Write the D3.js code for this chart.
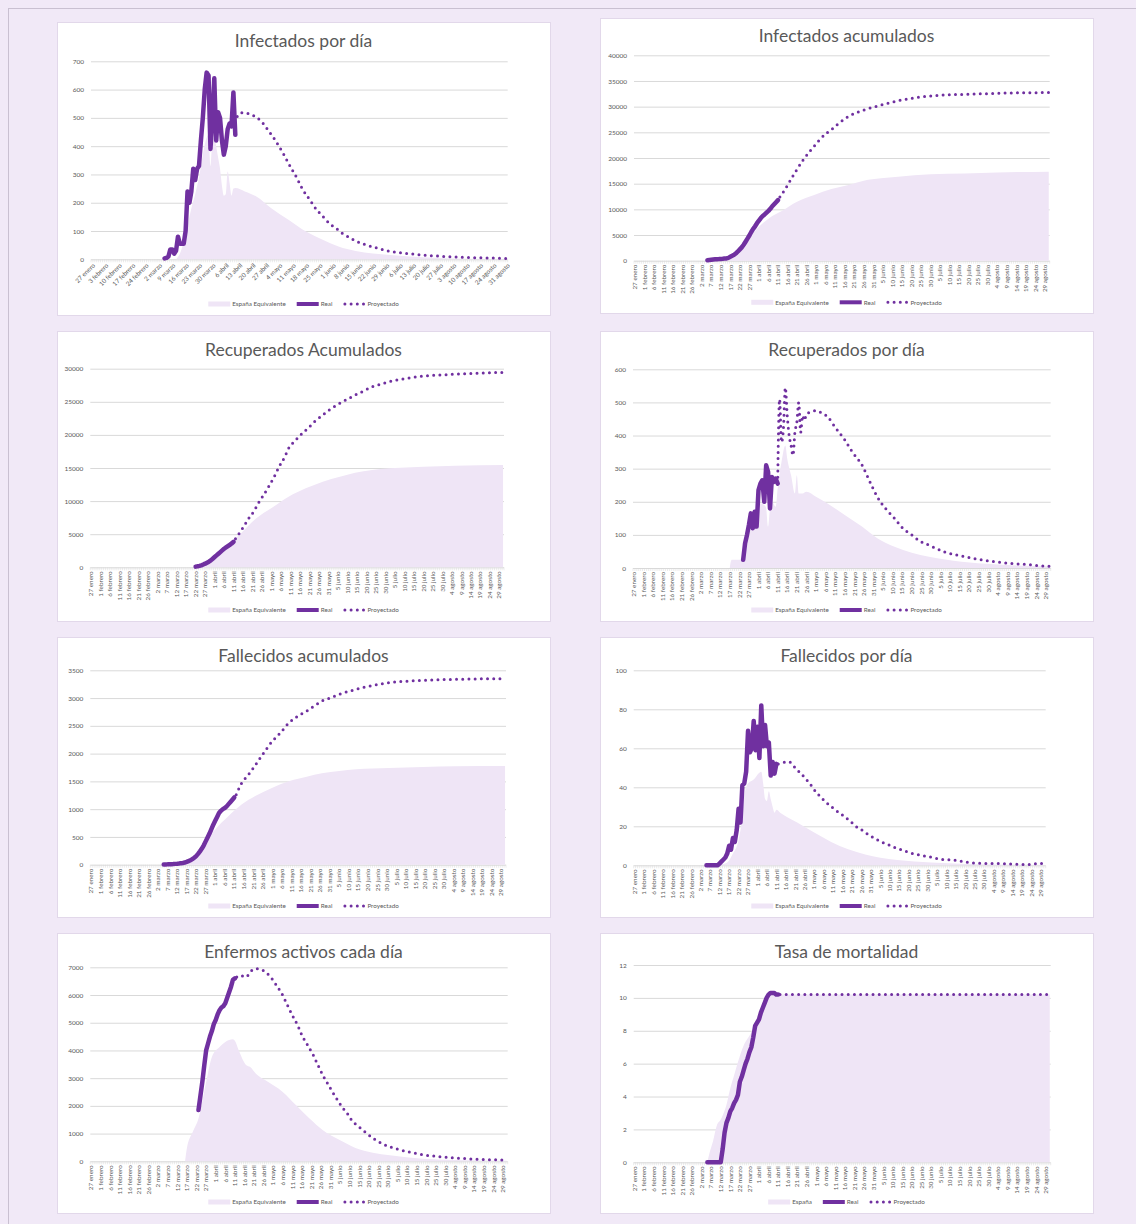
<!DOCTYPE html>
<html>
<head>
<meta charset="utf-8">
<script src="https://cdn.jsdelivr.net/npm/d3@7"></script>
<style>
body { margin: 0; background: #f1e9f7; }
svg { display: block; }
text { font-family: Lato, "Open Sans", sans-serif; fill: #595959; }
.grid line { stroke: #d9d9d9; stroke-width: 1; }
.grid text { font-size: 6.5px; }
.xlab { font-size: 6.3px; }
.titulo { font-size: 17.5px; }
.leyenda text { font-size: 6.3px; }
</style>
</head>
<body>
<svg id="chart" width="1136" height="1224"></svg>
<script>
// dias desde el 27 de enero hasta el 31 de agosto (categorias del eje)
const N_DIAS = 218

const etiquetasSemana = ["27 enero","3 febrero","10 febrero","17 febrero","24 febrero","2 marzo","9 marzo",
	"16 marzo","23 marzo","30 marzo","6 abril","13 abril","20 abril","27 abril","4 mayo","11 mayo","18 mayo",
	"25 mayo","1 junio","8 junio","15 junio","22 junio","29 junio","6 julio","13 julio","20 julio","27 julio",
	"3 agosto","10 agosto","17 agosto","24 agosto","31 agosto"]

const etiquetasCinco = ["27 enero","1 febrero","6 febrero","11 febrero","16 febrero","21 febrero","26 febrero",
	"2 marzo","7 marzo","12 marzo","17 marzo","22 marzo","27 marzo","1 abril","6 abril","11 abril","16 abril",
	"21 abril","26 abril","1 mayo","6 mayo","11 mayo","16 mayo","21 mayo","26 mayo","31 mayo","5 junio",
	"10 junio","15 junio","20 junio","25 junio","30 junio","5 julio","10 julio","15 julio","20 julio","25 julio",
	"30 julio","4 agosto","9 agosto","14 agosto","19 agosto","24 agosto","29 agosto"]

// --- Infectados por dia ---
const infDiaRealInicio = 38
const infDiaReal = [3,5,10,35,35,20,30,80,55,55,55,100,240,200,240,320,280,320,330,420,500,600,660,650,390,
	500,640,420,520,500,420,370,400,460,480,470,590,440]
const infDiaProy = [[76,505],[78,518],[80,518],[83,512],[86,503],[89,485],[92,458],[96,420],[100,375],[104,325],
	[107,290],[110,250],[114,210],[117,180],[121,150],[124,128],[128,108],[131,92],[135,76],[138,65],[142,54],
	[149,40],[156,28],[163,22],[173,15],[184,10],[194,7],[205,5],[217,3]]
const infDiaArea = [[44,0],[46,20],[48,60],[50,120],[52,180],[54,230],[56,290],[58,370],[60,430],[61,440],
	[62,330],[63,420],[64,430],[65,400],[66,360],[67,320],[68,260],[69,225],[70,230],[71,310],[72,270],[73,225],
	[74,250],[75,252],[80,240],[86,222],[94,180],[103,139],[112,98],[121,68],[129,45],[138,29],[156,15],
	[173,7],[190,3],[217,1]]

// --- Infectados acumulados ---
const infAcRealInicio = 38
const infAcReal = [100,150,200,250,280,300,320,350,380,420,450,550,750,950,1150,1450,1800,2200,2600,3100,3700,
	4300,4900,5600,6200,6700,7300,7800,8300,8700,9000,9350,9700,10100,10600,11000,11400,11800]
const infAcProy = [[76,12400],[78,13500],[80,14700],[83,16600],[85,17800],[88,19500],[91,21000],[94,22300],
	[96,23200],[100,24700],[103,25500],[107,26800],[112,28100],[116,28800],[120,29350],[125,29900],[129,30300],
	[134,30800],[138,31150],[143,31500],[147,31750],[155,32080],[164,32300],[173,32400],[182,32500],[190,32600],
	[200,32680],[210,32720],[217,32750]]
const infAcArea = [[46,0],[50,300],[55,1500],[58,3000],[61,4800],[64,6200],[68,7600],[72,8700],[77,9700],
	[85,11500],[94,12800],[103,13960],[112,14740],[120,15580],[129,16040],[138,16360],[155,16820],[173,17000],
	[190,17200],[217,17340]]

// --- Recuperados acumulados ---
const recAcRealInicio = 55
const recAcReal = [100,150,220,300,420,550,700,850,1050,1300,1550,1800,2050,2300,2550,2800,3000,3200,3400,3600,3850]
const recAcProy = [[76,4300],[78,5130],[80,6000],[83,7400],[86,8600],[88,9660],[91,11000],[94,12430],[97,14000],
	[99,15200],[102,16700],[104,17970],[107,19000],[110,19900],[115,21240],[118,22100],[122,23000],[126,23900],
	[131,24770],[135,25400],[139,26020],[144,26700],[148,27280],[153,27700],[157,28040],[166,28540],[175,28890],
	[184,29050],[192,29190],[205,29330],[217,29450]]
const recAcArea = [[52,0],[55,50],[60,500],[65,1500],[70,2800],[75,4100],[78,4880],[87,7400],[96,9160],
	[104,10670],[113,11930],[122,12940],[131,13690],[139,14300],[148,14700],[157,14950],[175,15200],
	[192,15350],[217,15450]]

// --- Recuperados por dia ---
const recDiaRealInicio = 57
const recDiaReal = [25,75,100,130,165,120,170,125,235,255,265,200,310,290,180,275,260,270,255]
const recDiaProy = [[75,255],[76,510],[77,380],[78,420],[79,545],[80,460],[81,400],[82,370],[83,340],[84,410],
	[85,440],[86,500],[87,410],[88,460],[89,445],[90,465],[92,470],[95,475],[98,468],[101,457],[105,425],
	[110,387],[114,350],[119,311],[123,262],[127,215],[132,175],[136,150],[140,122],[145,100],[149,82],
	[154,69],[162,49],[171,36],[180,26],[188,19],[197,14],[206,10],[214,6],[217,5]]
const recDiaArea = [[50,0],[51,25],[56,25],[57,60],[60,120],[63,160],[66,195],[68,190],[69,180],[70,125],
	[71,180],[72,200],[74,185],[75,240],[77,320],[79,370],[80,330],[82,280],[84,225],[85,280],[86,225],
	[88,225],[90,230],[95,215],[101,195],[110,160],[119,125],[127,90],[136,64],[145,46],[154,34],[171,19],
	[188,11],[217,5]]

// --- Fallecidos acumulados ---
const falAcRealInicio = 38
const falAcReal = [5,5,6,8,10,12,15,18,22,28,32,38,50,65,80,100,125,155,195,240,290,350,420,490,560,640,720,
	790,860,930,970,1000,1020,1050,1090,1130,1170,1210]
const falAcProy = [[76,1260],[79,1477],[82,1600],[85,1740],[88,1890],[91,2040],[95,2227],[98,2330],[100,2407],
	[103,2530],[106,2620],[109,2690],[113,2767],[117,2860],[121,2948],[126,3010],[130,3068],[135,3120],
	[139,3158],[143,3195],[148,3230],[156,3278],[165,3303],[174,3320],[183,3330],[191,3338],[200,3343],
	[214,3350],[217,3350]]
const falAcArea = [[46,0],[50,40],[55,150],[58,300],[60,426],[65,636],[72,877],[79,1087],[86,1237],[95,1387],
	[104,1507],[113,1585],[121,1645],[130,1687],[139,1717],[156,1741],[174,1759],[191,1771],[217,1777]]

// --- Fallecidos por dia ---
const falDiaRealInicio = 38
const falDiaReal = [0,0,0,0,0,0,0,1,2,3,4,6,10,8,14,12,18,29,22,41,42,48,69,58,60,74,59,71,55,82,61,72,61,
	63,46,53,47,52]
const falDiaProy = [[76,52],[78,52.5],[80,53],[82,53],[84,51],[87,48],[90,45],[93,41.5],[96,37.5],[98,35.5],
	[101,32.5],[103,31],[106,28.5],[109,26.5],[114,22.7],[117,20],[121,17.6],[124,15.5],[128,13.3],[131,11.8],
	[135,10.3],[138,9],[142,7.7],[145,6.6],[149,5.6],[152,5],[156,4.3],[163,3],[170,2.6],[177,1.4],[184,1],
	[192,0.9],[202,0.5],[208,0.4],[214,1],[217,0.5]]
const falDiaArea = [[40,0],[46,0.5],[49,1.4],[52,6],[55,13],[57,25],[58,35.5],[60,42],[63,44],[66,47.5],
	[67,48],[68,42],[69,34],[70,33],[71,38],[72,34],[73,30],[74,27],[75,28.5],[77,27],[86,22],[95,16.8],
	[104,12],[113,8.2],[122,5.6],[130,3.9],[139,2.7],[157,1.4],[175,0.7],[217,0.2]]

// --- Enfermos activos ---
const enfRealInicio = 56
const enfReal = [1850,2350,2860,3450,4000,4250,4500,4700,4950,5100,5300,5450,5550,5600,5700,5900,6100,6300,
	6550,6600]
const enfProy = [[76,6650],[78,6711],[80,6660],[81,6650],[83,6830],[86,6950],[88,6930],[91,6830],[93,6700],
	[95,6530],[97,6320],[100,5990],[102,5700],[105,5270],[108,4880],[110,4550],[113,4190],[116,3825],
	[118,3530],[121,3100],[124,2740],[126,2500],[129,2170],[131,1960],[134,1700],[136,1480],[139,1290],
	[142,1120],[147,842],[152,637],[159,457],[166,337],[173,240],[182,168],[190,120],[199,84],[208,60],[217,45]]
const enfArea = [[49,0],[50,500],[53,1058],[56,1540],[60,2862],[63,3765],[67,4125],[70,4305],[74,4400],
	[75,4350],[77,4005],[81,3464],[83,3404],[86,3163],[91,2923],[100,2502],[107,2020],[114,1540],[121,1120],
	[130,758],[138,481],[147,313],[156,216],[173,96],[190,48],[217,24]]

// --- Tasa de mortalidad ---
const tasaRealInicio = 38
const tasaReal = [0,0,0,0,0,0,0,0,0.8,1.8,2.4,2.7,3.1,3.3,3.6,3.8,4.1,4.9,5.2,5.6,6.0,6.3,6.7,7.0,7.6,8.3,
	8.5,8.7,9.1,9.4,9.7,10.0,10.2,10.3,10.3,10.3,10.2,10.2]
const tasaProy = [[76,10.2],[217,10.2]]
const tasaArea = [[38,0],[39,0.5],[41,1.3],[43,2.25],[45,2.6],[46,2.85],[48,3.5],[50,4.5],[52,5.3],[54,6.1],
	[57,7.1],[61,7.9],[63,8.4],[66,9.0],[68,9.65],[70,10.15],[72,10.2],[217,10.2]]

const MORADO = "#7030a0"
const LILA = "#efe5f6"

var svg = d3.select("#chart")

// marco de la pagina
svg.append("rect")
   .attr("x", 8.5).attr("y", 8.5)
   .attr("width", 1140).attr("height", 1230)
   .attr("fill", "none")
   .attr("stroke", "#c9c0d1")

function diario(inicio, valores) {
	return valores.map(function(v, k) { return [inicio + k, v] })
}

var paneles = [
	{ titulo: "Infectados por día", card: [57, 22, 493, 293], x0: 91, x1: 507.7, y0: 61.3, y1: 259.3,
	  ty: 41, ly: 304, yMax: 700, yStep: 100, semanal: true,
	  real: diario(infDiaRealInicio, infDiaReal), proy: infDiaProy, area: infDiaArea, nombreArea: "España Equivalente" },
	{ titulo: "Infectados acumulados", card: [600, 18, 493, 295], x0: 634, x1: 1049.7, y0: 55.3, y1: 260.7,
	  ty: 35.7, ly: 302.3, yMax: 40000, yStep: 5000,
	  real: diario(infAcRealInicio, infAcReal), proy: infAcProy, area: infAcArea, nombreArea: "España Equivalente" },
	{ titulo: "Recuperados Acumulados", card: [57, 331, 493, 290], x0: 90.3, x1: 504, y0: 368.7, y1: 567.3,
	  ty: 350, ly: 610, yMax: 30000, yStep: 5000,
	  real: diario(recAcRealInicio, recAcReal), proy: recAcProy, area: recAcArea, nombreArea: "España Equivalente" },
	{ titulo: "Recuperados por día", card: [600, 331, 493, 290], x0: 633, x1: 1050.7, y0: 369.3, y1: 568,
	  ty: 350, ly: 610, yMax: 600, yStep: 100,
	  real: diario(recDiaRealInicio, recDiaReal), proy: recDiaProy, area: recDiaArea, nombreArea: "España Equivalente" },
	{ titulo: "Fallecidos acumulados", card: [57, 637, 493, 280], x0: 90.3, x1: 506, y0: 670.3, y1: 864.7,
	  ty: 656, ly: 906, yMax: 3500, yStep: 500,
	  real: diario(falAcRealInicio, falAcReal), proy: falAcProy, area: falAcArea, nombreArea: "España Equivalente" },
	{ titulo: "Fallecidos por día", card: [600, 637, 493, 280], x0: 633.7, x1: 1045.7, y0: 670.3, y1: 865.3,
	  ty: 656, ly: 906, yMax: 100, yStep: 20,
	  real: diario(falDiaRealInicio, falDiaReal), proy: falDiaProy, area: falDiaArea, nombreArea: "España Equivalente" },
	{ titulo: "Enfermos activos cada día", card: [57, 933, 493, 280], x0: 90.3, x1: 507.7, y0: 967.3, y1: 1161.3,
	  ty: 952, ly: 1202, yMax: 7000, yStep: 1000,
	  real: diario(enfRealInicio, enfReal), proy: enfProy, area: enfArea, nombreArea: "España Equivalente" },
	{ titulo: "Tasa de mortalidad", card: [600, 933, 493, 280], x0: 633.7, x1: 1050.7, y0: 965, y1: 1162.3,
	  ty: 952, ly: 1202, yMax: 12, yStep: 2,
	  real: diario(tasaRealInicio, tasaReal), proy: tasaProy, area: tasaArea, nombreArea: "España" }
]

function renderPanel(p) {
	var g = svg.append("g")

	g.append("rect")
	 .attr("x", p.card[0] + 0.5).attr("y", p.card[1] + 0.5)
	 .attr("width", p.card[2]).attr("height", p.card[3])
	 .attr("fill", "#ffffff")
	 .attr("stroke", "#e2d8ea")

	var x = d3.scaleLinear()
	          .domain([-0.5, N_DIAS - 0.5])
	          .range([p.x0, p.x1])
	var y = d3.scaleLinear()
	          .domain([0, p.yMax])
	          .range([p.y1, p.y0])

	// rejilla horizontal y etiquetas del eje y
	var ejeY = g.append("g")
	 .attr("class", "grid")
	 .attr("transform", "translate(" + p.x0 + ",0)")
	 .call(d3.axisLeft(y)
	         .tickValues(d3.range(0, p.yMax + p.yStep / 2, p.yStep))
	         .tickFormat(d3.format("d"))
	         .tickSize(-(p.x1 - p.x0))
	         .tickPadding(7))
	ejeY.select(".domain").remove()

	// marcas de categoria en el eje x
	g.append("g")
	 .selectAll("line")
	 .data(d3.range(N_DIAS + 1))
	 .enter()
	 .append("line")
	 .attr("x1", function(d) { return x(d - 0.5) })
	 .attr("x2", function(d) { return x(d - 0.5) })
	 .attr("y1", p.y1)
	 .attr("y2", p.y1 + 3)
	 .attr("stroke", "#d9d9d9")
	 .attr("stroke-width", 0.5)

	var area = d3.area()
	             .x(function(d) { return x(d[0]) })
	             .y0(y(0))
	             .y1(function(d) { return y(d[1]) })
	             .curve(d3.curveMonotoneX)
	g.append("path")
	 .datum(p.area)
	 .attr("d", area)
	 .attr("fill", LILA)

	var lineaReal = d3.line()
	                  .x(function(d) { return x(d[0]) })
	                  .y(function(d) { return y(d[1]) })
	g.append("path")
	 .datum(p.real)
	 .attr("d", lineaReal)
	 .attr("fill", "none")
	 .attr("stroke", MORADO)
	 .attr("stroke-width", 4.5)
	 .attr("stroke-linejoin", "round")
	 .attr("stroke-linecap", "round")

	var lineaProy = d3.line()
	                  .x(function(d) { return x(d[0]) })
	                  .y(function(d) { return y(d[1]) })
	                  .curve(d3.curveMonotoneX)
	g.append("path")
	 .datum(p.proy)
	 .attr("d", lineaProy)
	 .attr("fill", "none")
	 .attr("stroke", MORADO)
	 .attr("stroke-width", 3)
	 .attr("stroke-dasharray", "0 6.2")
	 .attr("stroke-linecap", "round")

	// etiquetas del eje x
	var etiquetas = p.semanal ? etiquetasSemana : etiquetasCinco
	var paso = p.semanal ? 7 : 5
	g.append("g")
	 .selectAll("text")
	 .data(etiquetas)
	 .enter()
	 .append("text")
	 .attr("class", "xlab")
	 .attr("text-anchor", "end")
	 .attr("dy", "0.35em")
	 .attr("transform", function(d, k) {
		 if (p.semanal)
			 return "translate(" + (x(k * paso) + 2) + "," + (p.y1 + 5) + ") rotate(-45)"
		 return "translate(" + x(k * paso) + "," + (p.y1 + 4) + ") rotate(-90)"
	 })
	 .text(function(d) { return d })

	g.append("text")
	 .attr("class", "titulo")
	 .attr("x", p.card[0] + p.card[2] / 2)
	 .attr("y", p.ty)
	 .attr("dy", "0.35em")
	 .attr("text-anchor", "middle")
	 .text(p.titulo)

	// leyenda
	var ley = g.append("g").attr("class", "leyenda")
	var items = [ { tipo: "area", nombre: p.nombreArea },
	              { tipo: "real", nombre: "Real" },
	              { tipo: "proy", nombre: "Proyectado" } ]
	var cx = 0
	items.forEach(function(it) {
		if (it.tipo === "area") {
			ley.append("rect").attr("x", cx).attr("y", -2.5).attr("width", 22).attr("height", 5).attr("fill", LILA)
		} else if (it.tipo === "real") {
			ley.append("line").attr("x1", cx).attr("x2", cx + 22).attr("y1", 0).attr("y2", 0)
			   .attr("stroke", MORADO).attr("stroke-width", 4)
		} else {
			ley.append("line").attr("x1", cx + 1.5).attr("x2", cx + 22).attr("y1", 0).attr("y2", 0)
			   .attr("stroke", MORADO).attr("stroke-width", 3)
			   .attr("stroke-dasharray", "0 6.2").attr("stroke-linecap", "round")
		}
		var t = ley.append("text").attr("x", cx + 24).attr("dy", "0.35em").text(it.nombre)
		cx += 24 + t.node().getComputedTextLength() + 11
	})
	cx -= 11
	ley.attr("transform", "translate(" + (p.card[0] + p.card[2] / 2 - cx / 2) + "," + p.ly + ")")
}

paneles.forEach(renderPanel)
</script>
</body>
</html>
